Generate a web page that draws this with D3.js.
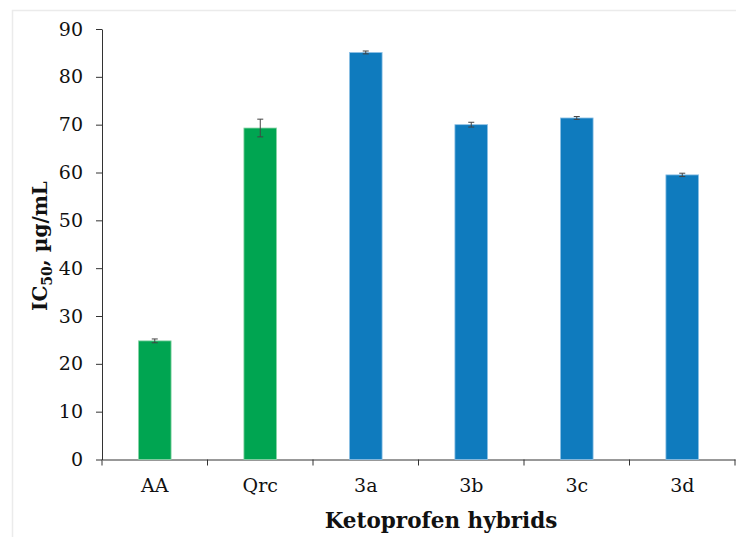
<!DOCTYPE html>
<html>
<head>
<meta charset="utf-8">
<script src="https://cdn.jsdelivr.net/npm/d3@7"></script>
<style>
  body { margin: 0; background: #fff; }
  svg { display: block; }
</style>
</head>
<body>
<div id="chart"></div>
<script>
// data
const categories = ["AA", "Qrc", "3a", "3b", "3c", "3d"];
const ic50 = [24.8, 69.3, 85.1, 70.0, 71.4, 59.5];
const errors = [0.4, 1.85, 0.3, 0.5, 0.3, 0.35];
const groups = ["ref", "ref", "hyb", "hyb", "hyb", "hyb"];
const yTicks = [0, 10, 20, 30, 40, 50, 60, 70, 80, 90];

const W = 736, H = 537;
const margin = { top: 29, left: 102, right: 1, bottom: 77 };

const colors = { ref: "#00a551", hyb: "#0f7bbe" };
const edges = { ref: "#8fd6ab", hyb: "#92c3e6" };

const svg = d3.select("#chart")
  .append("svg")
  .attr("width", W)
  .attr("height", H);

// faint frame around the figure
svg.append("path")
  .attr("d", `M12.5,${H} V10.5 H${W}`)
  .attr("fill", "none")
  .attr("stroke", "#ebebeb")
  .attr("stroke-width", 1.5);

const x = d3.scaleBand()
  .domain(categories)
  .range([margin.left, W - margin.right])
  .padding(0);

const y = d3.scaleLinear()
  .domain([0, 90])
  .range([H - margin.bottom - 0.5, margin.top]);

const font = "'DejaVu Serif', serif";

// y axis
const yAxis = svg.append("g")
  .attr("transform", `translate(${margin.left},0)`)
  .call(d3.axisLeft(y).tickValues(yTicks).tickSize(6).tickPadding(13).tickSizeOuter(0));
yAxis.select(".domain").attr("stroke", "#333");
yAxis.selectAll(".tick line").attr("stroke", "#333");
yAxis.selectAll(".tick text")
  .attr("fill", "#111")
  .style("font-family", font)
  .style("font-size", "19px");

// x axis with ticks at category boundaries
const xAxis = svg.append("g")
  .attr("transform", `translate(0,${y(0)})`)
  .call(d3.axisBottom(x).tickSize(0).tickPadding(19));
xAxis.select(".domain").attr("stroke", "#333");
xAxis.selectAll(".tick text")
  .attr("fill", "#111")
  .style("font-family", font)
  .style("font-size", "19px");

const bounds = categories.map(c => x(c)).concat([x.range()[1]]);
xAxis.selectAll(".bound")
  .data(bounds)
  .join("line")
  .attr("class", "bound")
  .attr("x1", d => d)
  .attr("x2", d => d)
  .attr("y1", 0)
  .attr("y2", 6)
  .attr("stroke", "#333");

// bars
const barW = x.bandwidth() * 0.31;
const rows = categories.map((c, i) => ({ c, v: ic50[i], e: errors[i], g: groups[i] }));

svg.append("g")
  .selectAll("rect")
  .data(rows)
  .join("rect")
  .attr("x", d => x(d.c) + (x.bandwidth() - barW) / 2)
  .attr("y", d => y(d.v))
  .attr("width", barW)
  .attr("height", d => y(0) - y(d.v))
  .attr("fill", d => colors[d.g])
  .attr("stroke", d => edges[d.g])
  .attr("stroke-width", 0.8);

// error bars
const eb = svg.append("g")
  .attr("stroke", "#444")
  .attr("stroke-width", 1);
const cx = d => x(d.c) + x.bandwidth() / 2;
eb.selectAll(".v")
  .data(rows)
  .join("line")
  .attr("x1", cx).attr("x2", cx)
  .attr("y1", d => y(d.v + d.e))
  .attr("y2", d => y(d.v - d.e));
eb.selectAll(".top")
  .data(rows)
  .join("line")
  .attr("x1", d => cx(d) - 3).attr("x2", d => cx(d) + 3)
  .attr("y1", d => y(d.v + d.e)).attr("y2", d => y(d.v + d.e));
eb.selectAll(".bot")
  .data(rows)
  .join("line")
  .attr("x1", d => cx(d) - 3).attr("x2", d => cx(d) + 3)
  .attr("y1", d => y(d.v - d.e)).attr("y2", d => y(d.v - d.e));

// axis titles
svg.append("text")
  .attr("x", 441)
  .attr("y", 528)
  .attr("text-anchor", "middle")
  .style("font-family", font)
  .style("font-weight", "bold")
  .style("font-size", "21.5px")
  .attr("fill", "#111")
  .text("Ketoprofen hybrids");

const yt = svg.append("text")
  .attr("transform", "translate(47,246) rotate(-90)")
  .attr("text-anchor", "middle")
  .style("font-family", font)
  .style("font-weight", "bold")
  .style("font-size", "20px")
  .attr("fill", "#111");
yt.append("tspan").text("IC");
yt.append("tspan").attr("dy", 5).style("font-size", "14px").text("50");
yt.append("tspan").attr("dy", -5).text(", µg/mL");
</script>
</body>
</html>
